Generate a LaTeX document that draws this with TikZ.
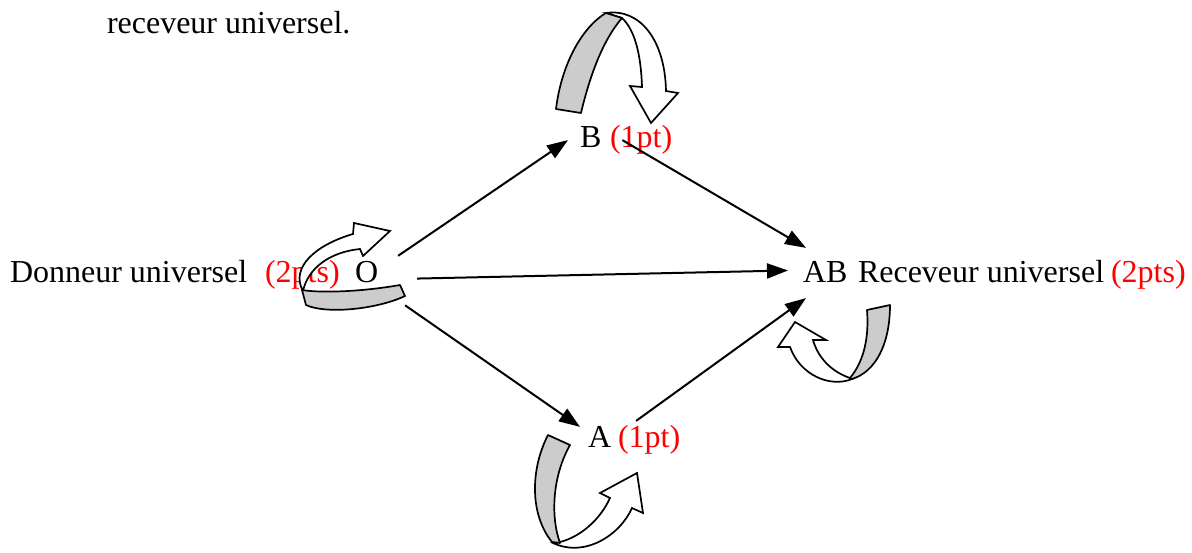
\documentclass[tikz,border=0pt]{standalone}
\usepackage{fontspec}
\setmainfont{Liberation Serif}
\usetikzlibrary{arrows.meta,calc}
\tikzset{
  txt/.style={inner sep=0pt, outer sep=0pt, anchor=base west, font=\fontsize{32}{38}\selectfont},
  redtxt/.style={txt, text=red},
  arr/.style={line width=2pt, -{Triangle[length=21pt,width=15pt]}},
  backband/.style={draw=black, line width=1.7pt, fill=gray!40, line join=round},
  frontband/.style={draw=black, line width=1.7pt, fill=white, line join=miter},
}
\begin{document}
\begin{tikzpicture}[x=1pt,y=-1pt]
\useasboundingbox (0,0) rectangle (1192,552);
% texts
\node[txt] (top) at (107,33) {receveur universel.};
\node[txt] (B) at (580,147) {B};
\node[redtxt] (Bpt) at (610,147) {(1pt)};
\node[txt] (DU) at (10,282) {Donneur universel};
\node[redtxt] (DUpt) at (265,282) {(2pts)};
\node[txt] (O) at (355,282) {O};
\node[txt] (AB) at (803,282) {AB};
\node[txt] (RU) at (858,282) {Receveur universel};
\node[redtxt] (RUpt) at (1111,282) {(2pts)};
\node[txt] (A) at (588,447) {A};
\node[redtxt] (Apt) at (618,447) {(1pt)};

% curved block arrows
% B loop
\draw[frontband] (606,13) .. controls (640,8) and (665,40) .. (666,91) -- (678,93) -- (651,123) -- (630,86) -- (642,87) .. controls (641,55) and (635,30) .. (622,18) -- cycle;
\draw[backband] (556,109) .. controls (562,60) and (585,25) .. (606,13) -- (622,18) .. controls (603,40) and (590,75) .. (581,113) -- cycle;
% O loop
\draw[frontband] (303,291) .. controls (290,268) and (315,245) .. (353,234) -- (354,223) -- (390,231) -- (363,256) -- (360,249) .. controls (330,252) and (308,268) .. (303,291) -- cycle;
\draw[backband] (302,290) .. controls (320,293) and (360,292) .. (400,285) -- (405,296) .. controls (375,310) and (325,314) .. (306,305) -- cycle;
% AB loop
\draw[frontband] (852,379) .. controls (830,388) and (800,375) .. (790,347) -- (778,347) -- (795,322) -- (826,340) -- (813,340) .. controls (818,358) and (832,372) .. (850,378) -- cycle;
\draw[backband] (867,310) .. controls (869,335) and (865,360) .. (850,378) -- (852,379) .. controls (875,372) and (890,345) .. (890,305) -- cycle;
% A loop
\draw[frontband] (553,543) .. controls (585,558) and (620,535) .. (632,508) -- (643,513) -- (637,473) -- (600,493) -- (610,498) .. controls (600,520) and (580,537) .. (560,542) -- cycle;
\draw[backband] (548,435) .. controls (530,470) and (530,515) .. (552,542) -- (560,543) .. controls (550,515) and (553,475) .. (570,445) -- cycle;

% connectors
\draw[arr] ($(O.north east)+(20,-5)$) -- ($(B.south west)+(-12,-7)$);
\draw[arr] ($(B.south east)+(21,-7)$) -- ($(AB.north west)+(3,-13)$);
\draw[arr] ($(O.east)+(39,7)$) -- ($(AB.west)+(-15,-1)$);
\draw[arr] ($(O.south east)+(27,23)$) -- ($(A.north west)+(-8,1)$);
\draw[arr] ($(A.north east)+(25,-5)$) -- ($(AB.south west)+(3,16)$);
\end{tikzpicture}
\end{document}
